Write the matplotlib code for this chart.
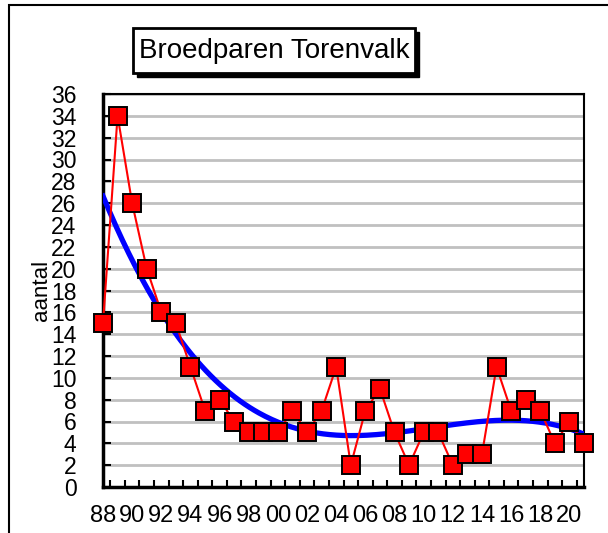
import matplotlib.pyplot as plt
import numpy as np
from matplotlib.patches import Rectangle

plt.rcParams["font.family"] = ["Liberation Sans", "DejaVu Sans"]

# Broedparen per jaar
years = list(range(1988, 2022))
pairs = [15, 34, 26, 20, 16, 15, 11, 7, 8, 6, 5, 5, 5, 7, 5, 7, 11,
         2, 7, 9, 5, 2, 5, 5, 2, 3, 3, 11, 7, 8, 7, 4, 6, 4]
label_years = list(range(1988, 2021, 2))
y_ticks = list(range(0, 37, 2))

fig = plt.figure(figsize=(6.08, 5.33), dpi=100)

# outer chart frame (runs off the right/bottom edge)
fig.patches.append(Rectangle((9 / 608, -0.1), 1.2, 1.1 - 5 / 533, transform=fig.transFigure,
                             fill=False, edgecolor="black", linewidth=1.5, zorder=0))

ax = fig.add_axes([103 / 608, 46 / 533, 481 / 608, 393 / 533])

# polynomial trendline (3rd order, like the spreadsheet)
x = np.array(years, dtype=float) - 1988
coef = np.polyfit(x, pairs, 3)
xs = np.linspace(x[0], x[-1], 300)
ax.plot(xs + 1988, np.polyval(coef, xs), color="#0000ff", linewidth=3.8, zorder=3)

ax.plot(years, pairs, color="#ff0000", linewidth=1.5, marker="s", markersize=13,
        markerfacecolor="#ff0000", markeredgecolor="black", markeredgewidth=1.4,
        zorder=4, clip_on=False)

ax.set_xlim(1988, 2021)
ax.set_ylim(0, 36)

ax.set_yticks(y_ticks)
ax.set_yticklabels([str(v) for v in y_ticks], fontsize=16.5)
ax.tick_params(axis="y", direction="in", length=6, width=1.5, pad=19)
ax.yaxis.grid(True, color="#c0c0c0", linewidth=2)
ax.set_axisbelow(True)

ax.set_xticks([y + 0.5 for y in years[:-1]])
ax.set_xticklabels([])
ax.tick_params(axis="x", which="major", direction="in", length=5, width=1.5)
ax.set_xticks(label_years, minor=True)
ax.set_xticklabels([f"{y % 100:02d}" for y in label_years], minor=True, fontsize=17)
ax.tick_params(axis="x", which="minor", length=0, pad=13)

for s in ax.spines.values():
    s.set_linewidth(1.5)
for s in ("left", "bottom"):
    ax.spines[s].set_linewidth(2.5)

ax.set_ylabel("aantal", fontsize=16)
ax.yaxis.set_label_coords(-51 / 481, 0.5)

# title box with shadow
fig.patches.append(Rectangle((137 / 608, 1 - 77 / 533), 282 / 608, 45 / 533,
                             transform=fig.transFigure, facecolor="black",
                             edgecolor="black", zorder=1))
fig.patches.append(Rectangle((133 / 608, 1 - 73 / 533), 282 / 608, 45 / 533,
                             transform=fig.transFigure, facecolor="white",
                             edgecolor="black", linewidth=2, zorder=2))
fig.text(274 / 608, 1 - 51 / 533, "Broedparen Torenvalk", fontsize=20,
         ha="center", va="center", zorder=3)

fig.savefig("out.png", dpi=100)
